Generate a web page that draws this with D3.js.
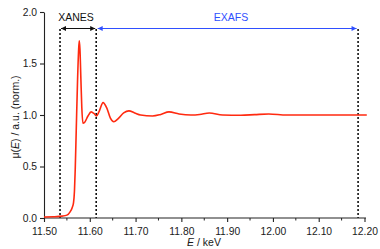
<!DOCTYPE html>
<html>
<head>
<meta charset="utf-8">
<script src="https://cdn.jsdelivr.net/npm/d3@7"></script>
<style>
  body { margin: 0; background: #fff; }
  svg { font-family: "Liberation Sans", Arial, sans-serif; }
</style>
</head>
<body>
<svg id="chart" width="380" height="249"></svg>
<script>
// spectrum
const energy = [11.500, 11.520, 11.540, 11.550, 11.557, 11.5615, 11.5645, 11.5665, 11.5682, 11.5704, 11.5733, 11.5755, 11.577,
  11.5785, 11.5805, 11.5825, 11.585, 11.589, 11.596, 11.603, 11.609, 11.6145, 11.620, 11.629, 11.637, 11.645, 11.6525,
  11.662, 11.674, 11.6855, 11.698, 11.711, 11.737, 11.755, 11.773, 11.795, 11.821, 11.840, 11.861, 11.890, 11.930,
  11.960, 11.991, 12.030, 12.100, 12.160, 12.205];
const mu = [0.010, 0.012, 0.018, 0.028, 0.06, 0.10, 0.15, 0.26, 0.47, 0.85, 1.34, 1.62, 1.72,
  1.64, 1.36, 1.08, 0.92, 0.93, 0.99, 1.03, 1.015, 0.99, 1.03, 1.12, 1.07, 0.97, 0.935,
  0.965, 1.02, 1.04, 1.02, 1.00, 0.99, 1.005, 1.03, 1.01, 1.00, 1.005, 1.02, 1.00, 0.998,
  1.004, 1.01, 1.00, 1.00, 1.00, 1.00];

const xTicks = [11.50, 11.60, 11.70, 11.80, 11.90, 12.00, 12.10, 12.20];
const xMinor = [11.55, 11.65, 11.75, 11.85, 11.95, 12.05, 12.15];
const yTicks = [0.0, 0.5, 1.0, 1.5, 2.0];
const regionEdges = [11.535, 11.614, 12.186];

const svg = d3.select('#chart');
const xScale = d3.scaleLinear().domain([11.5, 12.2]).range([44, 364.5]);
const yScale = d3.scaleLinear().domain([0, 2]).range([218, 12]);

// arrow heads
const defs = svg.append('defs');
function marker(id, color) {
  defs.append('marker')
    .attr('id', id)
    .attr('viewBox', '0 0 10 10')
    .attr('refX', 10).attr('refY', 5)
    .attr('markerWidth', 7).attr('markerHeight', 5)
    .attr('markerUnits', 'userSpaceOnUse')
    .attr('orient', 'auto-start-reverse')
    .append('path').attr('d', 'M0,0 L10,5 L0,10 z').attr('fill', color);
}
marker('arrBlack', '#111');
marker('arrBlue', '#2f4fff');

// dotted region lines
svg.selectAll('.edge')
  .data(regionEdges)
  .enter()
  .append('line')
  .attr('x1', d => xScale(d)).attr('x2', d => xScale(d))
  .attr('y1', 29).attr('y2', yScale(0))
  .attr('stroke', '#111')
  .attr('stroke-width', 1.6)
  .attr('stroke-dasharray', '2,2');

// axes
const xAxis = d3.axisBottom(xScale).tickValues(xTicks).tickFormat(d3.format('.2f')).tickSize(4).tickSizeOuter(0);
const gx = svg.append('g').attr('transform', `translate(0,${yScale(0)})`).call(xAxis);
gx.select('.domain').attr('d', `M${xScale(11.5)},0H366`);
gx.selectAll('.tick text').attr('y', 17).attr('dy', null).style('font-size', '10.3px').attr('fill', '#1a1a1a');
gx.selectAll('.minor')
  .data(xMinor)
  .enter()
  .append('line')
  .attr('class', 'minor')
  .attr('x1', d => xScale(d)).attr('x2', d => xScale(d))
  .attr('y1', 0).attr('y2', 2.5)
  .attr('stroke', '#222');

const yAxis = d3.axisLeft(yScale).tickValues(yTicks).tickFormat(d3.format('.1f')).tickSize(4).tickSizeOuter(0);
const gy = svg.append('g').attr('transform', `translate(${xScale(11.5)},0)`).call(yAxis);
gy.selectAll('.tick text').style('font-size', '10.3px').attr('fill', '#1a1a1a');
svg.selectAll('.domain, .tick line').attr('stroke', '#222').attr('stroke-width', 1.1);

// spectrum
const pts = energy.map((e, i) => [e, mu[i]]);
const line = d3.line()
  .x(d => xScale(d[0]))
  .y(d => yScale(d[1]))
  .curve(d3.curveMonotoneX);
svg.append('path')
  .datum(pts)
  .attr('d', line)
  .attr('fill', 'none')
  .attr('stroke', '#ff2a10')
  .attr('stroke-width', 1.6);

// region arrows
svg.append('line')
  .attr('x1', xScale(regionEdges[0]) + 1).attr('x2', xScale(regionEdges[1]) - 1)
  .attr('y1', 28.5).attr('y2', 28.5)
  .attr('stroke', '#111').attr('stroke-width', 1.2)
  .attr('marker-start', 'url(#arrBlack)')
  .attr('marker-end', 'url(#arrBlack)');
svg.append('line')
  .attr('x1', xScale(regionEdges[1]) + 1.5).attr('x2', xScale(regionEdges[2]) - 1.5)
  .attr('y1', 28.5).attr('y2', 28.5)
  .attr('stroke', '#2f4fff').attr('stroke-width', 1.2)
  .attr('marker-start', 'url(#arrBlue)')
  .attr('marker-end', 'url(#arrBlue)');

svg.append('text')
  .attr('x', 76)
  .attr('y', 21)
  .attr('text-anchor', 'middle')
  .style('font-size', '10.5px')
  .attr('fill', '#111')
  .text('XANES');
svg.append('text')
  .attr('x', 231)
  .attr('y', 21)
  .attr('text-anchor', 'middle')
  .style('font-size', '10.5px')
  .attr('fill', '#2f4fff')
  .text('EXAFS');

// axis titles
const xt = svg.append('text')
  .attr('x', 204).attr('y', 246)
  .attr('text-anchor', 'middle')
  .style('font-size', '10.5px')
  .attr('fill', '#1a1a1a');
xt.append('tspan').style('font-style', 'italic').text('E');
xt.append('tspan').text(' / keV');

const yt = svg.append('text')
  .attr('transform', 'translate(19,117) rotate(-90)')
  .attr('text-anchor', 'middle')
  .style('font-size', '10.5px')
  .attr('fill', '#1a1a1a');
yt.append('tspan').text('μ(');
yt.append('tspan').style('font-style', 'italic').text('E');
yt.append('tspan').text(') / a.u. (norm.)');
</script>
</body>
</html>
